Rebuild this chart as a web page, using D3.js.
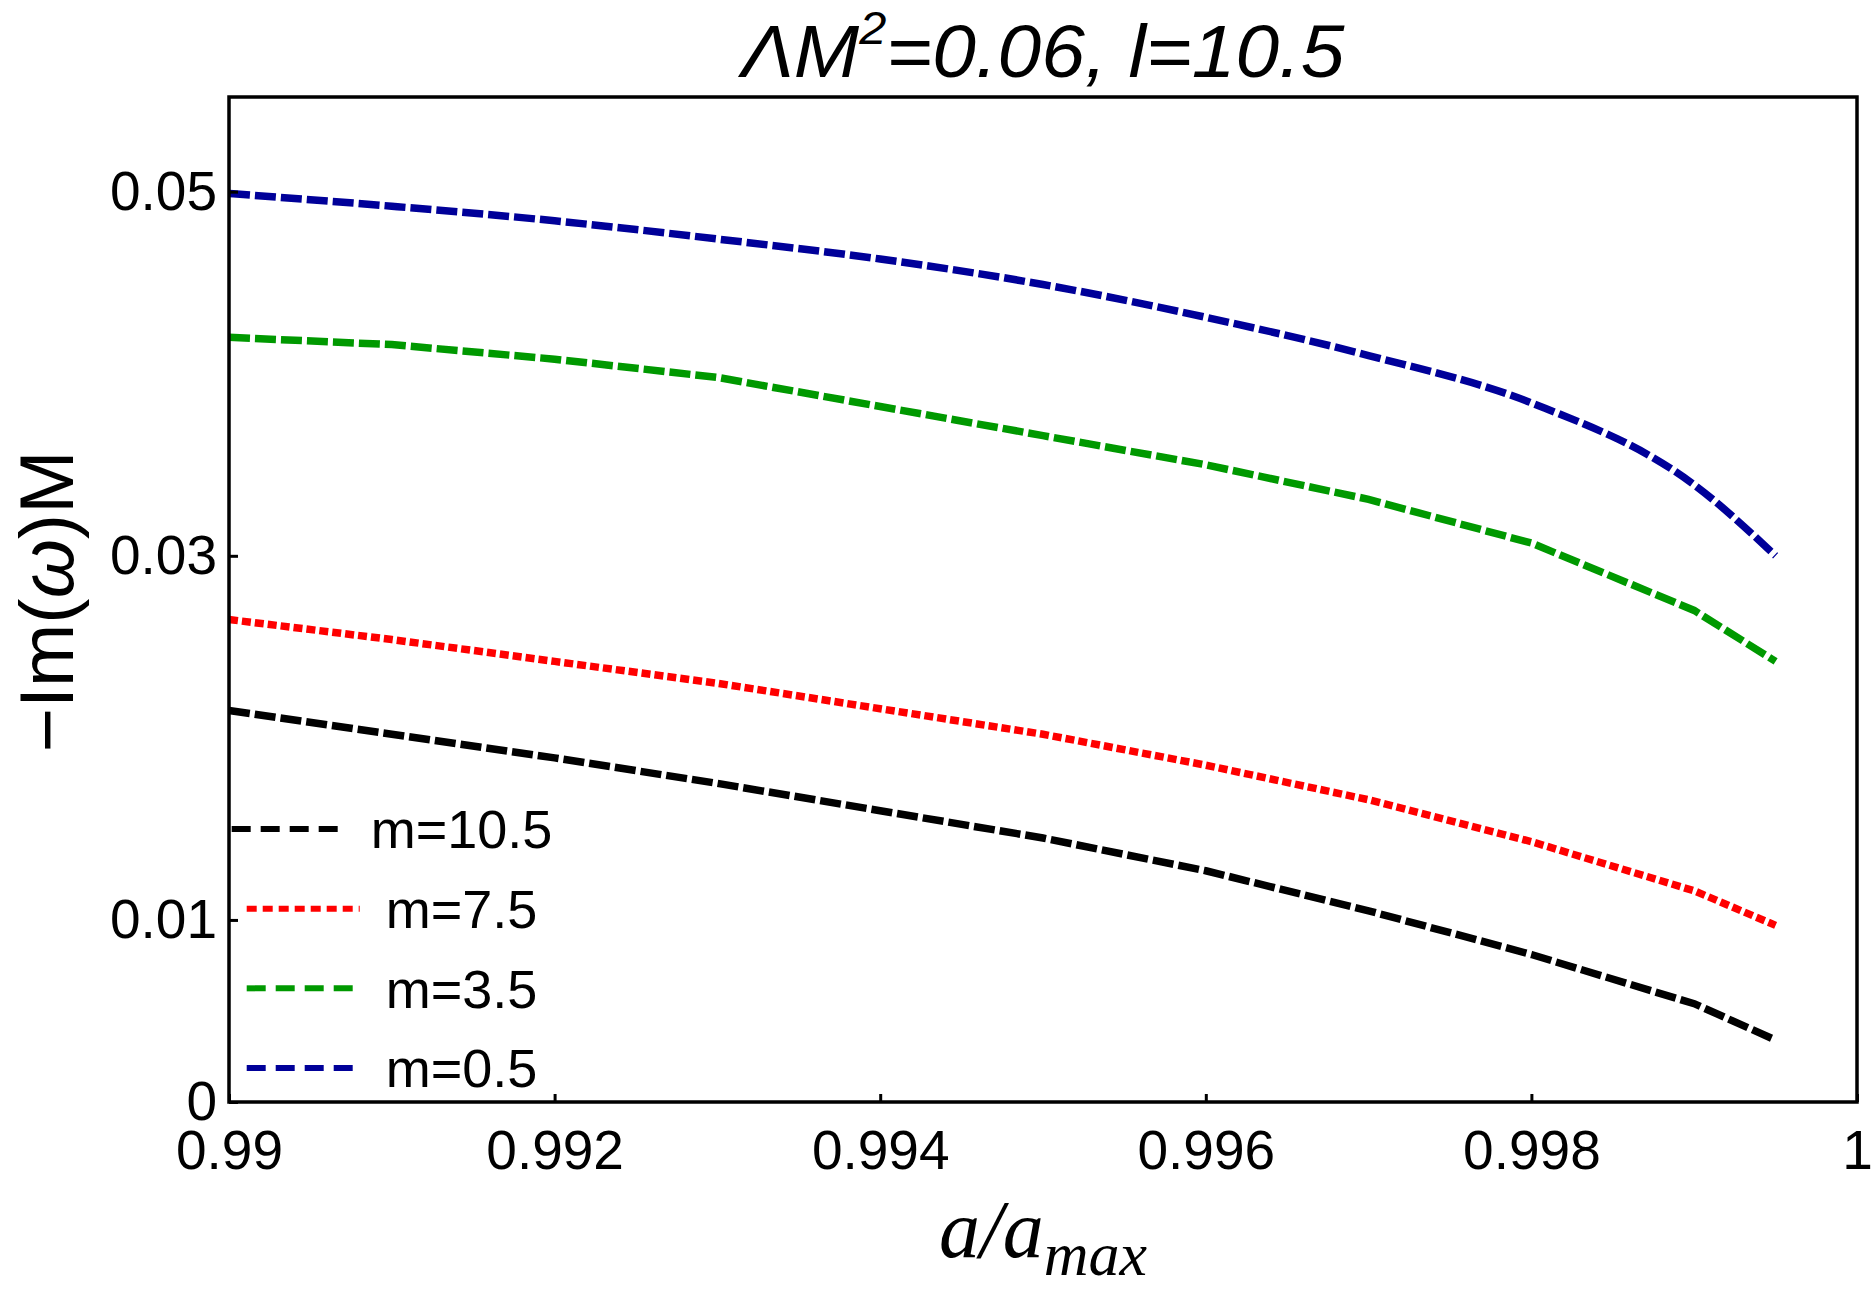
<!DOCTYPE html>
<html>
<head>
<meta charset="utf-8">
<script src="https://cdn.jsdelivr.net/npm/d3@7"></script>
<style>
  body { margin: 0; background: #fff; }
  text { font-family: "Liberation Sans", Arial, Helvetica, sans-serif; }
</style>
</head>
<body>
<div id="chart"></div>
<script>
// x values (a/a_max) shared by all series
var aValues = [0.990, 0.991, 0.992, 0.993, 0.994, 0.995, 0.996, 0.997, 0.998, 0.999, 0.9995];

// -Im(omega)M, one array per m
var m05  = [0.0499, 0.0492, 0.0484, 0.0474, 0.0463, 0.0449, 0.0431, 0.0410, 0.0384, 0.0339, 0.0300];
var m35  = [0.0420, 0.0416, 0.0408, 0.0398, 0.0382, 0.0366, 0.0350, 0.0331, 0.0307, 0.0270, 0.0242];
var m75  = [0.0265, 0.0254, 0.0242, 0.0230, 0.0216, 0.0202, 0.0185, 0.0166, 0.0143, 0.0116, 0.0097];
var m105 = [0.0215, 0.0202, 0.0189, 0.0175, 0.0160, 0.0145, 0.0127, 0.0105, 0.0081, 0.0054, 0.0034];

var legendLabels = ["m=10.5", "m=7.5", "m=3.5", "m=0.5"];
var xTicks = [0.99, 0.992, 0.994, 0.996, 0.998, 1];
var yTicks = [0, 0.01, 0.03, 0.05];

var W = 1875, H = 1292;
var margin = {top: 97, right: 18, bottom: 190, left: 229};

var svg = d3.select("#chart")
  .append("svg")
  .attr("width", W)
  .attr("height", H)
  .style("background-color", "#fff");

var x = d3.scaleLinear().domain([0.99, 1]).range([margin.left, W - margin.right]);
var y = d3.scaleLinear().domain([0, 0.0552]).range([H - margin.bottom, margin.top]);

// series: m=10.5 black, m=7.5 red dotted, m=3.5 green, m=0.5 blue
var series = [
  {label: legendLabels[0], values: m105, color: "#000000", dash: "21,5", legDash: "19,10", curve: d3.curveLinear},
  {label: legendLabels[1], values: m75,  color: "#ff0000", dash: "9,4",  legDash: "10,6",  curve: d3.curveLinear},
  {label: legendLabels[2], values: m35,  color: "#009900", dash: "21,5", legDash: "19,10", curve: d3.curveLinear},
  {label: legendLabels[3], values: m05,  color: "#000099", dash: "21,5", legDash: "19,10", curve: d3.curveMonotoneX}
];

svg.selectAll(".curve")
  .data(series)
  .enter().append("path")
    .attr("class", "curve")
    .attr("fill", "none")
    .attr("stroke", function(d) { return d.color; })
    .attr("stroke-width", 7.5)
    .attr("stroke-dasharray", function(d) { return d.dash; })
    .attr("d", function(d) {
      var line = d3.line()
        .curve(d.curve)
        .x(function(p) { return x(p[0]); })
        .y(function(p) { return y(p[1]); });
      return line(aValues.map(function(a, i) { return [a, d.values[i]]; }));
    });

// axes (ticks point inward)
var yAxis = svg.append("g")
  .attr("transform", "translate(" + margin.left + ",0)")
  .call(d3.axisLeft(y)
    .tickValues(yTicks)
    .tickSize(-9)
    .tickPadding(12)
    .tickFormat(function(d) { return d === 0 ? "0" : d3.format(".2f")(d); }));

var xAxis = svg.append("g")
  .attr("transform", "translate(0," + (H - margin.bottom) + ")")
  .call(d3.axisBottom(x)
    .tickValues(xTicks)
    .tickSize(-8)
    .tickPadding(28)
    .tickFormat(function(d) { return String(+d.toFixed(3)); }));

[yAxis, xAxis].forEach(function(g) {
  g.select(".domain").remove();
  g.selectAll(".tick line").attr("stroke", "#000").attr("stroke-width", 3);
  g.selectAll(".tick text")
    .attr("fill", "#000")
    .style("font-size", "55px")
    .style("font-family", "'Liberation Sans', Arial, sans-serif");
});

// frame
svg.append("rect")
  .attr("x", margin.left)
  .attr("y", margin.top)
  .attr("width", W - margin.right - margin.left)
  .attr("height", H - margin.bottom - margin.top)
  .attr("fill", "none")
  .attr("stroke", "#000")
  .attr("stroke-width", 3.5);

// legend, rows centred on one column
var legend = svg.append("g").attr("class", "legend");
var legRowY = d3.scalePoint().domain(legendLabels).range([829, 1068]);
var legCx = 392;

series.forEach(function(s) {
  var row = legend.append("g");
  var txt = row.append("text")
    .attr("y", legRowY(s.label))
    .attr("dy", "0.36em")
    .style("font-size", "54px")
    .text(s.label);
  var tw = txt.node().getComputedTextLength();
  var lw = 113, gap = 26;
  var x0 = legCx - (lw + gap + tw) / 2;
  txt.attr("x", x0 + lw + gap);
  row.append("line")
    .attr("x1", x0).attr("x2", x0 + lw)
    .attr("y1", legRowY(s.label)).attr("y2", legRowY(s.label))
    .attr("stroke", s.color)
    .attr("stroke-width", 6)
    .attr("stroke-dasharray", s.legDash);
});

// title
var title = svg.append("text")
  .attr("x", (margin.left + W - margin.right) / 2)
  .attr("y", 77)
  .attr("text-anchor", "middle")
  .attr("textLength", 603)
  .attr("lengthAdjust", "spacingAndGlyphs")
  .style("font-size", "74px")
  .style("font-style", "italic");
title.append("tspan").text("ΛM");
title.append("tspan").attr("dy", -33).style("font-size", "46px").text("2");
title.append("tspan").attr("dy", 33).text("=0.06, l=10.5");

// y label
var yl = svg.append("text")
  .attr("transform", "translate(73," + ((margin.top + H - margin.bottom) / 2 + 2) + ") rotate(-90)")
  .attr("text-anchor", "middle")
  .style("font-size", "76px");
yl.append("tspan").text("−Im(");
yl.append("tspan").style("font-style", "italic").text("ω");
yl.append("tspan").text(")M");

// x label
var xl = svg.append("text")
  .attr("x", (margin.left + W - margin.right) / 2)
  .attr("y", 1257)
  .attr("text-anchor", "middle")
  .style("font-family", "'Liberation Serif', 'Times New Roman', serif")
  .style("font-style", "italic")
  .style("font-size", "82px");
xl.append("tspan").text("a/a");
xl.append("tspan").attr("dy", 18).style("font-size", "62px").text("max");
</script>
</body>
</html>
